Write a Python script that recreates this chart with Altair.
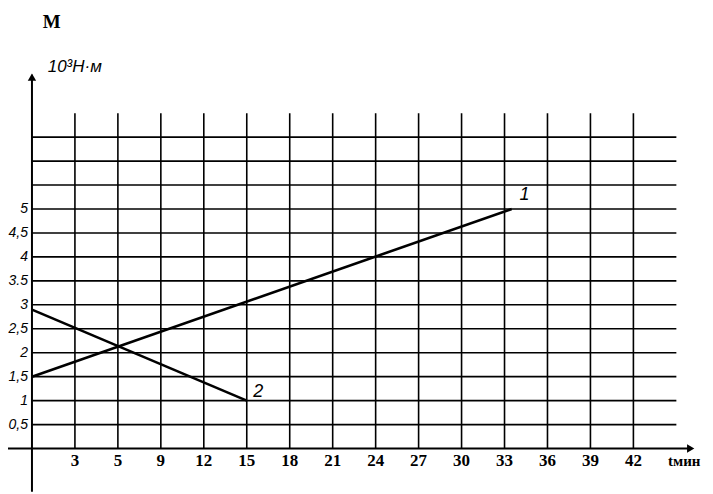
import altair as alt
import pandas as pd

# ---- data ----
x_ticks = [3, 6, 9, 12, 15, 18, 21, 24, 27, 30, 33, 36, 39, 42]
x_tick_labels = ["3", "5", "9", "12", "15", "18", "21", "24", "27", "30", "33", "36", "39", "42"]
y_ticks = [0.5, 1, 1.5, 2, 2.5, 3, 3.5, 4, 4.5, 5]
y_tick_labels = ["0,5", "1", "1,5", "2", "2,5", "3", "3.5", "4", "4,5", "5"]
h_grid = [0.5, 1, 1.5, 2, 2.5, 3, 3.5, 4, 4.5, 5, 5.5, 6, 6.5]
line1_t = [0, 33.5]
line1_m = [1.5, 5.0]
line2_t = [0, 15]
line2_m = [2.9, 1.0]

W, H = 674, 427
xs = alt.Scale(domain=[0, 47])
ys = alt.Scale(domain=[-0.9, 8])

def X(f="x"):
    return alt.X(f"{f}:Q", scale=xs, axis=None)

def Y(f="y"):
    return alt.Y(f"{f}:Q", scale=ys, axis=None)

# grid
vgrid = alt.Chart(pd.DataFrame({"x": x_ticks, "y": 0, "y2": 7.0})).mark_rule(
    color="black", strokeWidth=1.6).encode(x=X(), y=Y(), y2="y2:Q")
hgrid = alt.Chart(pd.DataFrame({"y": h_grid, "x": 0, "x2": 45.0})).mark_rule(
    color="black", strokeWidth=1.6).encode(y=Y(), x=X(), x2="x2:Q")

# axes
xaxis = alt.Chart(pd.DataFrame({"x": [-2.0], "x2": [45.9], "y": [0]})).mark_rule(
    color="black", strokeWidth=2).encode(x=X(), x2="x2:Q", y=Y())
yaxis = alt.Chart(pd.DataFrame({"x": [0], "y": [-0.9], "y2": [7.8]})).mark_rule(
    color="black", strokeWidth=2).encode(x=X(), y=Y(), y2="y2:Q")
arrow_up = alt.Chart(pd.DataFrame({"x": [0], "y": [7.75]})).mark_point(
    shape="triangle-up", filled=True, color="black", size=70, opacity=1).encode(x=X(), y=Y())
arrow_right = alt.Chart(pd.DataFrame({"x": [46.0], "y": [0]})).mark_point(
    shape="triangle-right", filled=True, color="black", size=70, opacity=1).encode(x=X(), y=Y())

# data lines
df1 = pd.DataFrame({"x": line1_t, "y": line1_m})
df2 = pd.DataFrame({"x": line2_t, "y": line2_m})
l1 = alt.Chart(df1).mark_line(color="black", strokeWidth=2.6).encode(x=X(), y=Y())
l2 = alt.Chart(df2).mark_line(color="black", strokeWidth=2.6).encode(x=X(), y=Y())

# tick labels
xlab = alt.Chart(pd.DataFrame({"x": x_ticks, "y": -0.25, "t": x_tick_labels})).mark_text(
    font="Liberation Serif", fontWeight="bold", fontSize=17, baseline="middle",
    align="center", color="black").encode(x=X(), y=Y(), text="t:N")
ylab = alt.Chart(pd.DataFrame({"x": -0.28, "y": y_ticks, "t": y_tick_labels})).mark_text(
    font="Liberation Sans", fontStyle="italic", fontSize=14, baseline="middle",
    align="right", color="black").encode(x=X(), y=Y(), text="t:N")

# titles / annotations
notes_x = [0.75, 1.1, 45.55, 34.4, 15.8]
notes_y = [8.9, 7.96, -0.27, 5.3, 1.17]
notes_t = ["M", "10³Н·м", "tмин", "1", "2"]
nd = pd.DataFrame({"x": notes_x, "y": notes_y, "t": notes_t})
m_lab = alt.Chart(nd.iloc[[0]]).mark_text(
    font="Liberation Serif", fontWeight="bold", fontSize=19, align="left",
    baseline="middle", color="black").encode(x=X(), y=Y(), text="t:N")
unit_lab = alt.Chart(nd.iloc[[1]]).mark_text(
    font="Liberation Sans", fontStyle="italic", fontSize=17, align="left",
    baseline="middle", color="black").encode(x=X(), y=Y(), text="t:N")
t_lab = alt.Chart(nd.iloc[[2]]).mark_text(
    font="Liberation Serif", fontWeight="bold", fontSize=15, align="center",
    baseline="middle", color="black").encode(x=X(), y=Y(), text="t:N")
num_lab = alt.Chart(nd.iloc[[3, 4]]).mark_text(
    font="Liberation Sans", fontStyle="italic", fontSize=18, align="center",
    baseline="middle", color="black").encode(x=X(), y=Y(), text="t:N")

chart = alt.layer(
    vgrid, hgrid, xaxis, yaxis, arrow_up, arrow_right, l1, l2,
    xlab, ylab, m_lab, unit_lab, t_lab, num_lab
).properties(
    width=W, height=H,
    autosize=alt.AutoSizeParams(type="none"),
    padding={"left": 24, "top": 57, "right": 0, "bottom": 0},
    background="white",
).configure_view(stroke=None)

chart.save("out.html", embed_options={"renderer": "svg", "actions": False})
